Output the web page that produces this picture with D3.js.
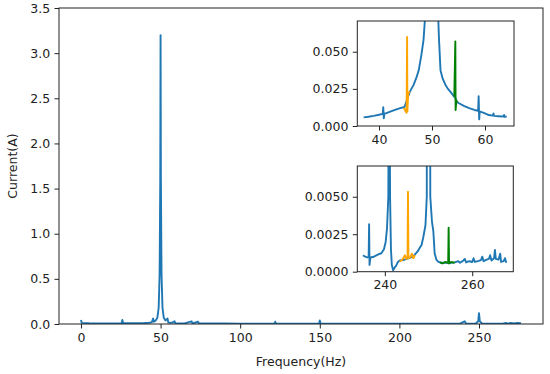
<!DOCTYPE html>
<html>
<head>
<meta charset="utf-8">
<script src="https://cdn.jsdelivr.net/npm/d3@7"></script>
<style>
  body { margin: 0; background: #fff; }
  svg text { font-family: "DejaVu Sans", sans-serif; fill: #222; }
  .axis path, .axis line { stroke: #222; }
</style>
</head>
<body>
<div id="chart"></div>
<script>
const lineColor = '#1f77b4';
const lowSideColor = '#ffa500';
const highSideColor = '#008000';

// full spectrum
const mainFreq = [0, 0.5, 5, 10, 15, 20, 25.5, 26, 26.5, 30, 35, 40, 43, 44.5, 45.3, 45.8, 47, 48, 48.8, 49.4, 49.8, 50,
  50.2, 50.6, 51.2, 52, 53, 54.4, 54.8, 57, 58.8, 59.2, 62, 65, 69.5, 70, 73.5, 74, 80, 90, 100, 110, 121.5, 122, 122.5,
  135, 149.5, 150, 150.5, 175, 200, 225, 238, 241, 242, 248, 249.5, 250, 250.5, 252, 260, 265, 267, 268, 270, 272, 274, 276.4];
const mainAmp = [0.045, 0.012, 0.008, 0.006, 0.006, 0.007, 0.008, 0.045, 0.008, 0.008, 0.009, 0.011, 0.014, 0.02, 0.06, 0.025, 0.04, 0.07, 0.18, 0.55, 1.6, 3.2,
  1.6, 0.55, 0.18, 0.07, 0.04, 0.06, 0.017, 0.012, 0.03, 0.01, 0.007, 0.006, 0.03, 0.006, 0.025, 0.006, 0.005, 0.005, 0.004, 0.004, 0.004, 0.025, 0.004,
  0.004, 0.004, 0.04, 0.004, 0.003, 0.003, 0.003, 0.004, 0.03, 0.003, 0.005, 0.03, 0.12, 0.03, 0.004, 0.003, 0.004, 0.012, 0.004, 0.012, 0.005, 0.012, 0.008];

// zoom around 50 Hz
const lowFreq = [37.1, 38, 39, 40, 40.7, 40.8, 40.9, 41, 42, 43, 44, 44.8, 45.8, 46.5, 47, 47.5, 48, 48.4, 48.7, 49, 49.5, 50,
  50.5, 51, 51.3, 51.6, 52, 52.5, 53, 53.5, 54, 54.4, 54.7, 55, 56, 57, 58, 58.7, 58.8, 58.9, 59, 60, 60.7, 61.5, 61.6, 61.7,
  62.5, 63.5, 63.6, 63.7, 64.1];
const lowAmp = [0.0058, 0.0062, 0.0068, 0.0076, 0.0082, 0.0126, 0.0052, 0.0082, 0.0095, 0.0108, 0.0120, 0.0128, 0.0230, 0.0275, 0.0320, 0.0376, 0.0480, 0.0580, 0.0740, 0.09, 0.3, 3.2,
  0.3, 0.09, 0.06, 0.0376, 0.0320, 0.0280, 0.0250, 0.0230, 0.0205, 0.0190, 0.0163, 0.0155, 0.0135, 0.0120, 0.0108, 0.0103, 0.0200, 0.0045, 0.0098, 0.0085, 0.0074, 0.0070, 0.0085, 0.0068,
  0.0066, 0.0064, 0.0075, 0.0062, 0.0063];
const lowSbLeftFreq = [44.7, 45.0, 45.2, 45.3, 45.35, 45.5, 45.8];
const lowSbLeftAmp = [0.0122, 0.0100, 0.0090, 0.0600, 0.0100, 0.0220, 0.0232];
const lowSbRightFreq = [54.2, 54.4, 54.45, 54.6, 54.8];
const lowSbRightAmp = [0.0198, 0.0570, 0.0108, 0.0170, 0.0160];

// zoom around 250 Hz
const highFreq = [235.0, 235.5, 236.0, 236.3, 236.4, 236.5, 236.7, 237.5, 238.5, 239.2, 239.8, 240.2, 240.5, 240.8, 241.0, 241.2, 241.4, 241.6, 241.9,
  242.3, 242.6, 243.0, 243.4, 244.5, 245.5, 246.5, 246.9, 247.5, 248.0, 248.4, 248.8, 249.3, 249.6, 250.0, 250.4, 250.8, 251.1, 251.4, 251.8,
  252.2, 252.8, 253.5, 255.0, 256.0, 256.8, 257.2, 258.0, 258.3, 258.6, 259.3, 260.0, 260.3, 260.6, 261.5, 262.0, 262.3, 262.6, 263.3, 263.8,
  264.1, 264.4, 265.0, 265.2, 265.4, 266.0, 266.4, 266.6, 267.2, 267.5, 267.8];
const highAmp = [0.00110, 0.00100, 0.00095, 0.00100, 0.00316, 0.00045, 0.00095, 0.00100, 0.00115, 0.00123, 0.00150, 0.00200, 0.00290, 0.00500, 0.0200, 0.00500, 0.00150, 0.00045, 0.00010,
  0.00030, 0.00040, 0.00065, 0.00075, 0.00080, 0.00090, 0.00100, 0.00116, 0.00135, 0.00160, 0.00178, 0.00230, 0.00310, 0.00500, 0.1200, 0.00500, 0.00330, 0.00270, 0.00123, 0.00080,
  0.00067, 0.00060, 0.00060, 0.00060, 0.00062, 0.00070, 0.00060, 0.00075, 0.00085, 0.00062, 0.00070, 0.00065, 0.00090, 0.00065, 0.00072, 0.00078, 0.00100, 0.00070, 0.00080, 0.00085,
  0.00110, 0.00075, 0.00090, 0.00145, 0.00085, 0.00080, 0.00120, 0.00065, 0.00070, 0.00090, 0.00060];
const highSbLeftFreq = [243.4, 244.0, 244.6, 244.9, 245.2, 245.3, 245.4, 245.8, 246.2, 246.5, 246.9];
const highSbLeftAmp = [0.00068, 0.00080, 0.00110, 0.00085, 0.00100, 0.00533, 0.00090, 0.00095, 0.00120, 0.00090, 0.00110];
const highSbRightFreq = [252.6, 253.2, 253.8, 254.3, 254.5, 254.6, 254.7, 255.2, 255.6, 256.0];
const highSbRightAmp = [0.00062, 0.00055, 0.00065, 0.00060, 0.00065, 0.00293, 0.00055, 0.00065, 0.00060, 0.00062];

const mainXTicks = [0, 50, 100, 150, 200, 250];
const mainYTicks = [0, 0.5, 1.0, 1.5, 2.0, 2.5, 3.0, 3.5];
const lowXTicks = [40, 50, 60];
const lowYTicks = [0, 0.025, 0.05];
const highXTicks = [240, 260];
const highYTicks = [0, 0.0025, 0.005];

const fontSize = 12.5;
const tickLen = 4.5;

var svg = d3.select("#chart").append("svg")
    .attr("width", 550)
    .attr("height", 374);

function pairs(xs, ys) {
    return xs.map(function(x, i) { return [x, ys[i]]; });
}

function drawPanel(cfg) {
    var x = d3.scaleLinear().domain(cfg.xDomain).range([cfg.left, cfg.right]);
    var y = d3.scaleLinear().domain(cfg.yDomain).range([cfg.bottom, cfg.top]);
    var g = svg.append("g");
    g.append("rect")
        .attr("x", cfg.left).attr("y", cfg.top)
        .attr("width", cfg.right - cfg.left)
        .attr("height", cfg.bottom - cfg.top)
        .attr("fill", "#fff");
    g.append("clipPath").attr("id", cfg.id)
        .append("rect")
        .attr("x", cfg.left).attr("y", cfg.top)
        .attr("width", cfg.right - cfg.left)
        .attr("height", cfg.bottom - cfg.top);
    var line = d3.line()
        .x(function(d) { return x(d[0]); })
        .y(function(d) { return y(d[1]); });
    var plot = g.append("g").attr("clip-path", "url(#" + cfg.id + ")");
    cfg.series.forEach(function(s) {
        plot.append("path")
            .datum(pairs(s.xs, s.ys))
            .attr("fill", "none")
            .attr("stroke", s.color)
            .attr("stroke-width", 1.9)
            .attr("stroke-linejoin", "round")
            .attr("d", line);
    });
    var xAxis = g.append("g").attr("class", "axis")
        .attr("transform", "translate(0," + cfg.bottom + ")")
        .call(d3.axisBottom(x).tickValues(cfg.xTicks).tickFormat(cfg.xFormat)
              .tickSize(tickLen).tickPadding(4.4));
    var yAxis = g.append("g").attr("class", "axis")
        .attr("transform", "translate(" + cfg.left + ",0)")
        .call(d3.axisLeft(y).tickValues(cfg.yTicks).tickFormat(cfg.yFormat)
              .tickSize(tickLen).tickPadding(4.4));
    [xAxis, yAxis].forEach(function(a) {
        a.select(".domain").remove();
        a.selectAll("text").style("font-size", fontSize + "px")
            .style("font-family", '"DejaVu Sans", sans-serif').attr("fill", "#222");
        a.selectAll("line").attr("stroke", "#222").attr("stroke-width", 1);
    });
    g.append("rect")
        .attr("x", cfg.left).attr("y", cfg.top)
        .attr("width", cfg.right - cfg.left)
        .attr("height", cfg.bottom - cfg.top)
        .attr("fill", "none")
        .attr("stroke", "#222")
        .attr("stroke-width", 1);
    return g;
}

drawPanel({
    id: "clip-main",
    left: 59, right: 543, top: 8, bottom: 324,
    xDomain: [-13.8, 290.2], yDomain: [0, 3.5],
    xTicks: mainXTicks, yTicks: mainYTicks,
    xFormat: d3.format("d"), yFormat: d3.format(".1f"),
    series: [{ xs: mainFreq, ys: mainAmp, color: lineColor }]
});

drawPanel({
    id: "clip-low",
    left: 357.3, right: 514, top: 21, bottom: 126,
    xDomain: [35.9, 65.47], yDomain: [0, 0.0707],
    xTicks: lowXTicks, yTicks: lowYTicks,
    xFormat: d3.format("d"), yFormat: d3.format(".3f"),
    series: [
        { xs: lowFreq, ys: lowAmp, color: lineColor },
        { xs: lowSbLeftFreq, ys: lowSbLeftAmp, color: lowSideColor },
        { xs: lowSbRightFreq, ys: lowSbRightAmp, color: highSideColor }
    ]
});

drawPanel({
    id: "clip-high",
    left: 357.3, right: 513.3, top: 166, bottom: 271.7,
    xDomain: [233.7, 269.4], yDomain: [0, 0.00705],
    xTicks: highXTicks, yTicks: highYTicks,
    xFormat: d3.format("d"), yFormat: d3.format(".4f"),
    series: [
        { xs: highFreq, ys: highAmp, color: lineColor },
        { xs: highSbLeftFreq, ys: highSbLeftAmp, color: lowSideColor },
        { xs: highSbRightFreq, ys: highSbRightAmp, color: highSideColor }
    ]
});

svg.append("text")
    .attr("x", 301).attr("y", 366)
    .attr("text-anchor", "middle")
    .style("font-size", fontSize + "px")
    .text("Frequency(Hz)");

svg.append("text")
    .attr("transform", "translate(16.5,166) rotate(-90)")
    .attr("text-anchor", "middle")
    .style("font-size", fontSize + "px")
    .text("Current(A)");
</script>
</body>
</html>
